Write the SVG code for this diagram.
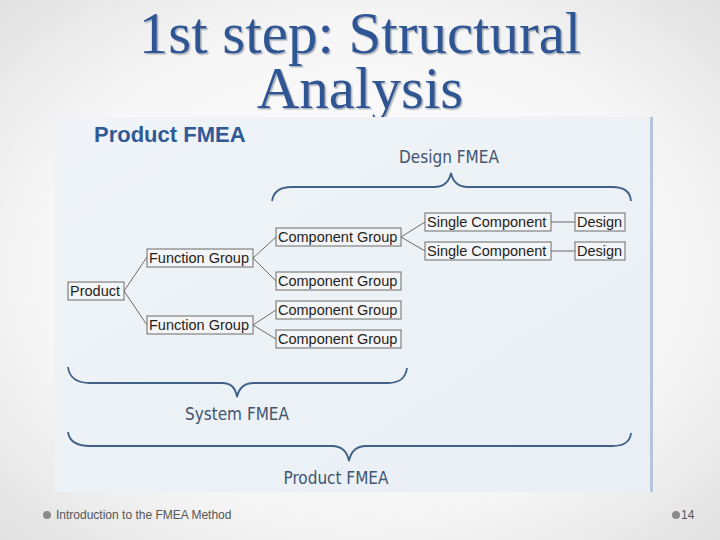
<svg xmlns="http://www.w3.org/2000/svg" width="720" height="540" viewBox="0 0 720 540">
<defs>
<radialGradient id="bg" cx="50%" cy="50%" r="75%">
<stop offset="0" stop-color="#ffffff"/>
<stop offset="0.6" stop-color="#f6f6f6"/>
<stop offset="1" stop-color="#dedede"/>
</radialGradient>
<linearGradient id="panel" x1="0" y1="0" x2="1" y2="1">
<stop offset="0" stop-color="#f0f4f8"/>
<stop offset="1" stop-color="#e9eff5"/>
</linearGradient>
<filter id="sh" x="-5%" y="-20%" width="110%" height="140%">
<feDropShadow dx="1.5" dy="1.5" stdDeviation="0.6" flood-color="#9aa3ad" flood-opacity="0.8"/>
</filter>
<style>
.title{font-family:"Liberation Serif",serif;font-size:59px;fill:#2f5594;text-anchor:middle}
.box rect{fill:#f4f5f6;stroke:#6a6a6a;stroke-width:1}
.box text{font-family:"Liberation Sans",Arial,sans-serif;font-size:14.5px;fill:#1e1e1e}
.conn line{stroke:#6a6a6a;stroke-width:1}
.brace{fill:none;stroke:#3f6087;stroke-width:1.8}
.lbl{font-family:"DejaVu Sans Condensed","Liberation Sans",sans-serif;font-size:17px;fill:#3f5570;text-anchor:middle}
.foot{font-family:"Liberation Sans",Arial,sans-serif;font-size:12px;fill:#555}
</style>
</defs>
<rect x="0" y="0" width="720" height="540" fill="url(#bg)"/>
<g id="title" filter="url(#sh)">
<text class="title" x="360" y="53">1st step: Structural</text>
<text class="title" x="360" y="108">Analysis</text>
</g>
<rect x="54" y="117" width="600" height="375" fill="url(#panel)"/>
<rect x="650" y="117" width="3" height="375" fill="#b4c6da"/>
<text x="94" y="142" font-family="Liberation Sans,Arial,sans-serif" font-weight="bold" font-size="22" fill="#2f5a96">Product FMEA</text>
<g id="braces">
<path class="brace" d="M272,201 Q274,187 292,187 L434,187 Q448,187 451,173 Q454,187 468,187 L612,187 Q630,187 631,201"/>
<path class="brace" d="M68,367 Q70,383 90,383 L222,383 Q235,383 237,397 Q240,383 254,383 L388,383 Q405,383 407,368"/>
<path class="brace" d="M68,432 Q70,446 90,446 L332,446 Q346,446 349,461 Q352,446 366,446 L612,446 Q630,446 631,433"/>
</g>
<text class="lbl" x="449" y="163">Design FMEA</text>
<text class="lbl" x="237" y="420">System FMEA</text>
<text class="lbl" x="336" y="484">Product FMEA</text>
<g id="connectors" class="conn">
<line x1="124" y1="291" x2="147" y2="257"/>
<line x1="124" y1="291" x2="147" y2="325"/>
<line x1="253" y1="258" x2="276" y2="237"/>
<line x1="253" y1="258" x2="276" y2="281"/>
<line x1="253" y1="325" x2="276" y2="310"/>
<line x1="253" y1="325" x2="276" y2="339"/>
<line x1="401" y1="237" x2="425" y2="222"/>
<line x1="401" y1="237" x2="425" y2="251"/>
<line x1="551" y1="222" x2="575" y2="222"/>
<line x1="551" y1="251" x2="575" y2="251"/>
</g>
<g id="product" class="box"><rect x="68" y="282" width="56" height="18"/><text x="70" y="296">Product</text></g>
<g id="fg1" class="box"><rect x="147" y="249" width="106" height="18"/><text x="149" y="263">Function Group</text></g>
<g id="fg2" class="box"><rect x="147" y="316" width="106" height="18"/><text x="149" y="330">Function Group</text></g>
<g id="cg1" class="box"><rect x="276" y="228" width="125" height="18"/><text x="278" y="242">Component Group</text></g>
<g id="cg2" class="box"><rect x="276" y="272" width="125" height="18"/><text x="278" y="286">Component Group</text></g>
<g id="cg3" class="box"><rect x="276" y="301" width="125" height="18"/><text x="278" y="315">Component Group</text></g>
<g id="cg4" class="box"><rect x="276" y="330" width="125" height="18"/><text x="278" y="344">Component Group</text></g>
<g id="sc1" class="box"><rect x="425" y="213" width="126" height="18"/><text x="427" y="227">Single Component</text></g>
<g id="sc2" class="box"><rect x="425" y="242" width="126" height="18"/><text x="427" y="256">Single Component</text></g>
<g id="d1" class="box"><rect x="575" y="213" width="50" height="18"/><text x="577" y="227">Design</text></g>
<g id="d2" class="box"><rect x="575" y="242" width="50" height="18"/><text x="577" y="256">Design</text></g>
<g id="footer">
<circle cx="47" cy="515" r="4" fill="#8a8a8a"/>
<text class="foot" x="56" y="519">Introduction to the FMEA Method</text>
<circle cx="676" cy="515" r="4" fill="#8a8a8a"/>
<text class="foot" x="681" y="519">14</text>
</g>
</svg>
